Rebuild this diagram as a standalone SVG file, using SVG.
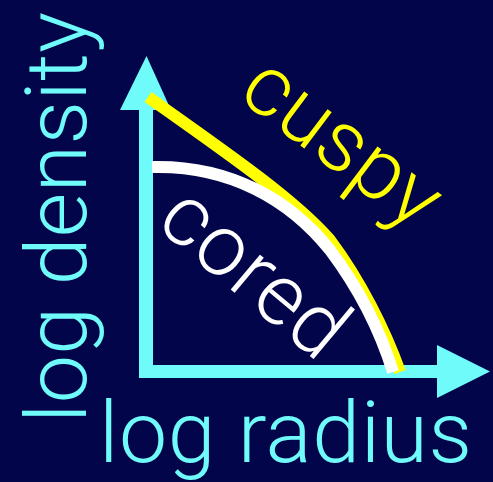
<svg xmlns="http://www.w3.org/2000/svg" width="493" height="482" viewBox="0 0 493 482">
<style>
.lbl{font-family:Roboto,"Liberation Sans",Arial,sans-serif;font-weight:300;font-size:86px}
.ax{fill:#70fbfb}
</style>
<rect width="493" height="482" fill="#02054a"/>
<g id="axes">
<rect class="ax" x="139" y="108" width="14" height="270"/>
<rect class="ax" x="139" y="365" width="300" height="13"/>
<polygon class="ax" points="146.5,56 120,110 171,110"/>
<polygon class="ax" points="490,371.5 437,345 437,398"/>
</g>
<g id="curves">
<path id="cuspy-curve" d="M148,97 C 230,155 295,200 330,240 C 360,280 385,330 400,372" fill="none" stroke="#ffff00" stroke-width="12"/>
<path id="cored-curve" d="M152,167 C 230,165 290,200 330,250 C 360,290 380,330 393,372" fill="none" stroke="#ffffff" stroke-width="12"/>
</g>
<g id="labels">
<text class="lbl" fill="#70fbfb" transform="translate(86,423) rotate(-90)" textLength="411" lengthAdjust="spacing">log density</text>
<text class="lbl" fill="#70fbfb" x="99" y="462" textLength="373" lengthAdjust="spacing">log radius</text>
<text class="lbl" fill="#ffff00" transform="translate(236,97) rotate(37)" textLength="225" lengthAdjust="spacing">cuspy</text>
<text class="lbl" fill="#ffffff" transform="translate(154,225) rotate(40)" textLength="215" lengthAdjust="spacing">cored</text>
</g>
</svg>
